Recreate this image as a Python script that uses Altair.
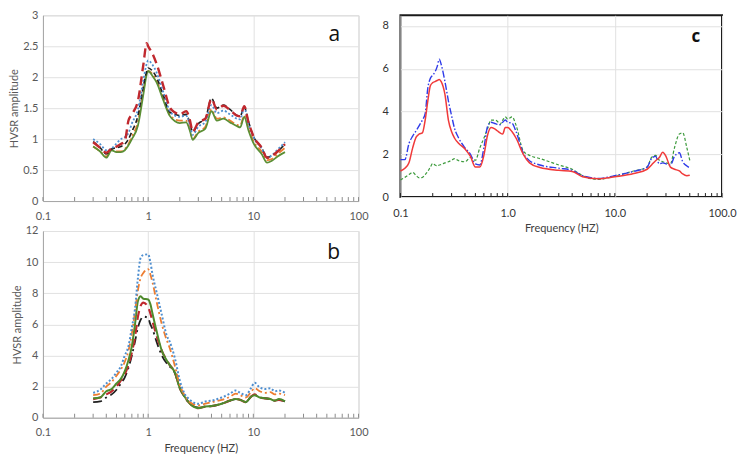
import altair as alt
import pandas as pd

# ---------------- Panel a ----------------
freq_a = [0.3, 0.35, 0.4, 0.45, 0.5, 0.55, 0.6, 0.65, 0.7, 0.8, 0.9, 0.97, 1.0, 1.1, 1.2,
          1.4, 1.6, 1.8, 2.0, 2.3, 2.5, 2.65, 3.0, 3.5, 4.0, 4.5, 5.2, 6.0, 7.0, 7.5,
          8.2, 9.0, 10.0, 12.0, 13.5, 15.0, 17.0, 20.0]
red_a = [0.95, 0.86, 0.78, 0.85, 0.88, 0.92, 0.97, 1.3, 1.4, 1.62, 2.2, 2.55, 2.5, 2.38, 2.22,
         1.85, 1.52, 1.43, 1.4, 1.45, 1.3, 1.12, 1.27, 1.33, 1.65, 1.48, 1.54, 1.47, 1.38, 1.37,
         1.53, 1.27, 1.05, 0.86, 0.7, 0.73, 0.8, 0.92]
blue_a = [1.0, 0.92, 0.82, 0.85, 0.93, 1.0, 1.03, 1.1, 1.25, 1.48, 1.95, 2.22, 2.27, 2.2, 2.08,
          1.75, 1.46, 1.38, 1.36, 1.38, 1.22, 1.07, 1.2, 1.28, 1.55, 1.42, 1.46, 1.4, 1.33, 1.32,
          1.5, 1.25, 1.04, 0.85, 0.7, 0.74, 0.83, 0.95]
black_a = [0.96, 0.86, 0.76, 0.84, 0.86, 0.88, 0.92, 1.0, 1.12, 1.38, 1.85, 2.1, 2.15, 2.1, 2.0,
           1.7, 1.44, 1.4, 1.38, 1.4, 1.25, 1.12, 1.25, 1.33, 1.66, 1.5, 1.55, 1.48, 1.38, 1.37,
           1.52, 1.28, 1.05, 0.86, 0.71, 0.73, 0.8, 0.92]
orange_a = [0.88, 0.8, 0.72, 0.83, 0.8, 0.8, 0.84, 0.92, 1.04, 1.28, 1.78, 2.05, 2.1, 2.05, 1.95,
            1.65, 1.4, 1.32, 1.3, 1.3, 1.15, 1.0, 1.12, 1.2, 1.48, 1.33, 1.35, 1.3, 1.23, 1.22,
            1.38, 1.17, 0.97, 0.8, 0.66, 0.68, 0.76, 0.86]
green_a = [0.88, 0.8, 0.7, 0.82, 0.79, 0.79, 0.82, 0.9, 1.0, 1.22, 1.72, 2.05, 2.1, 2.02, 1.92,
           1.62, 1.38, 1.29, 1.26, 1.27, 1.13, 0.99, 1.1, 1.17, 1.45, 1.3, 1.33, 1.27, 1.21, 1.19,
           1.36, 1.14, 0.94, 0.76, 0.62, 0.65, 0.72, 0.79]

# ---------------- Panel b ----------------
freq_b = [0.3, 0.35, 0.4, 0.45, 0.5, 0.55, 0.6, 0.65, 0.7, 0.75, 0.8, 0.85, 0.9, 1.0, 1.05,
          1.1, 1.2, 1.35, 1.5, 1.6, 1.8, 2.0, 2.2, 2.5, 3.0, 3.5, 4.0, 5.0, 6.0, 6.8,
          7.5, 8.5, 9.5, 10.3, 11.5, 13.0, 14.5, 16.0, 17.5, 20.0]
blue_b = [1.6, 1.8, 2.2, 2.5, 2.9, 3.3, 4.0, 4.6, 5.8, 7.0, 9.0, 10.3, 10.45, 10.5, 10.0,
          9.2, 8.1, 6.6, 5.3, 4.9, 3.8, 2.4, 1.6, 1.15, 0.9, 1.05, 1.1, 1.3, 1.55, 1.75,
          1.6, 1.45, 1.9, 2.25, 1.95, 1.85, 1.9, 1.7, 1.75, 1.6]
orange_b = [1.45, 1.55, 2.0, 2.3, 2.7, 3.1, 3.6, 4.3, 5.4, 6.8, 8.2, 9.0, 9.3, 9.55, 9.2,
            8.7, 7.5, 6.0, 5.0, 4.5, 3.3, 2.1, 1.5, 1.0, 0.8, 0.9, 1.0, 1.15, 1.35, 1.55,
            1.45, 1.3, 1.65, 1.9, 1.7, 1.6, 1.65, 1.5, 1.55, 1.45]
green_b = [1.25, 1.3, 1.7, 1.85, 2.2, 2.5, 3.0, 3.7, 4.6, 6.0, 7.5, 7.8, 7.65, 7.6, 7.3,
           6.7, 5.6, 4.3, 3.7, 3.4, 2.9, 1.9, 1.4, 0.9, 0.62, 0.72, 0.75, 0.9, 1.1, 1.2,
           1.15, 1.0, 1.35, 1.45, 1.3, 1.25, 1.2, 1.1, 1.2, 1.05]
red_b = [1.2, 1.3, 1.5, 1.7, 2.0, 2.4, 2.8, 3.4, 4.2, 5.2, 6.5, 7.2, 7.4, 7.1, 6.7,
         6.2, 5.3, 4.3, 3.7, 3.4, 2.9, 1.9, 1.4, 0.9, 0.62, 0.72, 0.75, 0.9, 1.1, 1.2,
         1.15, 1.0, 1.35, 1.5, 1.3, 1.25, 1.2, 1.1, 1.15, 1.05]
black_b = [1.0, 1.05, 1.3, 1.5, 1.8, 2.2, 2.6, 3.2, 4.0, 4.9, 5.8, 6.3, 6.5, 6.4, 6.0,
           5.7, 4.9, 4.0, 3.5, 3.3, 2.85, 1.9, 1.4, 0.9, 0.65, 0.72, 0.75, 0.9, 1.1, 1.2,
           1.15, 1.0, 1.35, 1.45, 1.3, 1.25, 1.2, 1.1, 1.15, 1.05]

# ---------------- Panel c ----------------
freq_c = [0.1, 0.11, 0.12, 0.13, 0.14, 0.15, 0.16, 0.17, 0.18, 0.19, 0.2, 0.21, 0.22, 0.23, 0.24,
          0.26, 0.28, 0.3, 0.32, 0.35, 0.4, 0.45, 0.5, 0.55, 0.6, 0.65, 0.7, 0.75, 0.8, 0.85,
          0.9, 0.95, 1.0, 1.1, 1.2, 1.4, 1.6, 2.0, 3.0, 4.0, 5.0, 7.0, 10.0, 15.0, 20.0,
          22.0, 24.0, 26.0, 28.0, 30.0, 33.0, 36.0, 40.0, 43.0, 47.0, 50.0]
red_c = [1.22, 1.35, 1.6, 2.3, 2.8, 2.95, 3.0, 3.6, 4.5, 5.2, 5.35, 5.4, 5.45, 5.5, 5.4,
         4.8, 3.6, 3.05, 2.75, 2.5, 2.25, 1.9, 1.4, 1.4, 1.95, 2.9, 3.25, 3.2, 3.1, 3.0,
         2.95, 3.25, 3.25, 3.05, 2.75, 2.0, 1.6, 1.38, 1.25, 1.2, 0.95, 0.85, 0.95, 1.1, 1.3,
         1.5, 1.7, 1.85, 2.1, 1.9, 1.4, 1.3, 1.22, 1.08, 1.0, 1.02]
blue_c = [1.75, 1.75, 2.5, 2.85, 3.1, 3.35, 3.6, 3.9, 5.1, 5.55, 5.7, 5.85, 6.1, 6.45, 6.2,
          5.4, 4.5, 3.8, 3.2, 2.75, 2.3, 2.0, 1.55, 1.5, 2.3, 3.3, 3.5, 3.45, 3.4, 3.38,
          3.5, 3.6, 3.5, 3.45, 3.05, 2.05, 1.7, 1.5, 1.35, 1.25, 1.0, 0.87, 1.0, 1.2, 1.4,
          1.8, 1.9, 1.55, 1.6, 1.55, 1.5, 1.9, 2.07, 1.65, 1.45, 1.37]
green_c = [0.8, 0.92, 1.05, 1.15, 1.0, 0.9, 0.92, 1.05, 1.2, 1.4, 1.57, 1.5, 1.45, 1.5, 1.52,
           1.6, 1.65, 1.72, 1.8, 1.7, 1.65, 1.85, 1.72, 2.3, 2.75, 3.2, 3.6, 3.6, 3.55, 3.4,
           3.6, 3.75, 3.65, 3.75, 3.35, 2.15, 1.95, 1.8, 1.5, 1.3, 1.0, 0.82, 0.98, 1.22, 1.4,
           1.85, 1.95, 1.72, 1.65, 1.6, 1.55, 2.3, 2.95, 3.0, 2.3, 1.72]

# axis ticks / labels
decades = [0.1, 1, 10, 100]
minor_ticks = [0.1, 0.2, 0.3, 0.4, 0.5, 0.6, 0.7, 0.8, 0.9, 1, 2, 3, 4, 5, 6, 7, 8, 9,
               10, 20, 30, 40, 50, 60, 70, 80, 90, 100]
y_ticks_a = [0, 0.5, 1, 1.5, 2, 2.5, 3]
y_ticks_b = [0, 2, 4, 6, 8, 10, 12]
y_ticks_c = [0, 2, 4, 6, 8]
letters = ["a", "b", "c"]
letter_f = [59, 58, 57]
letter_v = [2.68, 10.6, 7.5]

FONT = "Lato"
LABEL_COLOR = "#595959"


def panel(freqs, series, ydom, yticks, W, H, xfmt, xtitle, ytitle, letter_idx,
          frame_color, frame_width, letter_size, letter_weight, c_style=False):
    xscale = alt.Scale(type="log", domain=[0.1, 100], nice=False)
    yscale = alt.Scale(domain=ydom, nice=False, zero=True)
    xaxis_kw = dict(values=decades, format=xfmt, grid=True, gridColor="#e1e1e1",
                    ticks=False, tickSize=0, labelPadding=(10 if c_style else 9),
                    labelFontSize=11, labelColor=("#333333" if c_style else LABEL_COLOR),
                    labelFont=FONT, domain=not c_style, domainColor="#a6a6a6",
                    labelFlush=False)
    if xtitle:
        xaxis_kw.update(titleFont=FONT, titleFontSize=11, titleFontWeight="normal",
                        titleColor="#404040", titlePadding=5)
    yaxis_kw = dict(values=yticks, format="~g", grid=True, gridColor="#e1e1e1",
                    ticks=False, tickSize=0, labelPadding=(12 if c_style else 5),
                    labelFontSize=11, labelColor=("#333333" if c_style else LABEL_COLOR),
                    labelFont=FONT, domain=not c_style, domainColor="#a6a6a6")
    if ytitle:
        yaxis_kw.update(titleFont=FONT, titleFontSize=11, titleFontWeight="normal",
                        titleColor=LABEL_COLOR, titlePadding=3)
    X = alt.X("f:Q", scale=xscale, axis=alt.Axis(**xaxis_kw),
              title=(xtitle if xtitle else None))
    Y = alt.Y("v:Q", scale=yscale, axis=alt.Axis(**yaxis_kw),
              title=(ytitle if ytitle else None))

    layers = []
    # inward minor ticks along the bottom edge
    tick_df = pd.DataFrame({"f": minor_ticks, "v": [0.0] * len(minor_ticks)})
    layers.append(
        alt.Chart(tick_df).mark_rule(color=("#222222" if c_style else "#8c8c8c"),
                                     strokeWidth=1)
        .encode(x=X, y=alt.value(H), y2=alt.value(H - 4))
    )
    for vals, color, dash, width in series:
        df = pd.DataFrame({"f": freqs, "v": vals})
        mk = dict(color=color, strokeWidth=width, interpolate="monotone")
        if dash:
            mk["strokeDash"] = dash
        layers.append(alt.Chart(df).mark_line(**mk).encode(x=X, y=Y))
    let_df = pd.DataFrame({"f": [letter_f[letter_idx]], "v": [letter_v[letter_idx]],
                           "t": [letters[letter_idx]]})
    layers.append(
        alt.Chart(let_df).mark_text(font="Open Sans", fontSize=letter_size,
                                    fontWeight=letter_weight, color="#111111")
        .encode(x=X, y=Y, text="t:N")
    )
    return alt.layer(*layers).properties(
        width=W, height=H,
        view=alt.ViewBackground(stroke=frame_color, strokeWidth=frame_width),
    )


series_a = [
    (orange_a, "#ED7D31", [7, 3, 2, 3], 1.8),
    (green_a, "#5B8F35", None, 1.8),
    (black_a, "#1F1F1F", [5, 3], 1.6),
    (blue_a, "#4F8FD0", [2, 2], 1.8),
    (red_a, "#C0282E", [9, 5], 2.4),
]
series_b = [
    (black_b, "#1F1F1F", [9, 4, 2, 4], 1.8),
    (red_b, "#C0282E", [9, 5], 2.2),
    (green_b, "#4E8A2C", None, 2.0),
    (orange_b, "#ED7D31", [7, 3, 2, 3], 1.8),
    (blue_b, "#4F8FD0", [2, 2], 2.0),
]
series_c = [
    (green_c, "#3C9A3C", [3, 2], 1.2),
    (blue_c, "#2F3BE8", [7, 2, 1.5, 2], 1.4),
    (red_c, "#F03A3A", None, 1.5),
]

panel_a = panel(freq_a, series_a, [0, 3], y_ticks_a, 316, 186, "~g", None,
                "HVSR amplitude", 0, "#cfcfcf", 1, 21, "normal")
panel_b = panel(freq_b, series_b, [0, 12], y_ticks_b, 316, 187, "~g", "Frequency (HZ)",
                "HVSR amplitude", 1, "#cfcfcf", 1, 21, "normal")
panel_c = panel(freq_c, series_c, [0, 8.5], y_ticks_c, 322, 182, ".1f", "Frequency (HZ)",
                None, 2, "#1a1a1a", 2, 17, "bold", c_style=True)

chart = alt.concat(
    panel_a, panel_c, panel_b, columns=2, bounds="flush",
    spacing={"row": 30, "column": 42},
).properties(
    padding={"left": 0, "top": 0, "right": 0, "bottom": 0},
    background="white",
).configure_view(strokeWidth=1)

chart.save("out.html", embed_options={"renderer": "svg", "actions": False})
